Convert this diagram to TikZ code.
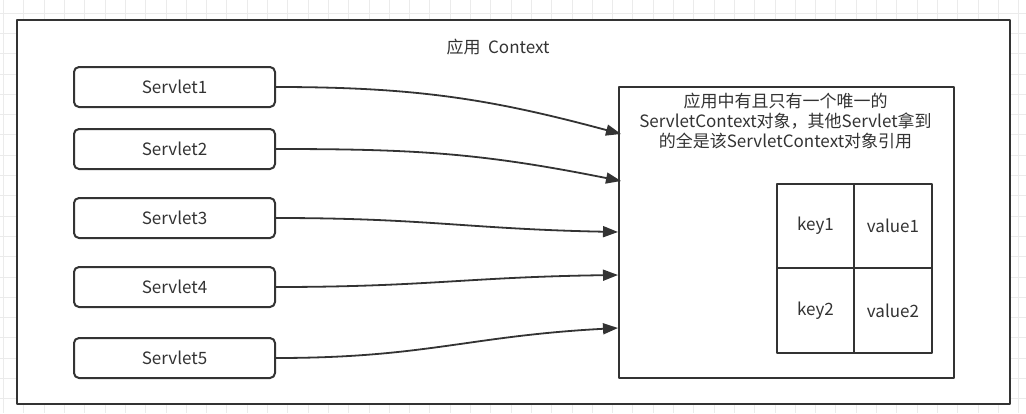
\documentclass[tikz,border=0pt]{standalone}
\usepackage{fontspec}
\setmainfont{Noto Sans CJK SC}
\usetikzlibrary{arrows.meta,positioning}

\definecolor{ink}{HTML}{333333}
\definecolor{gridgray}{HTML}{EBEBEB}

\begin{document}
\begin{tikzpicture}[x=1pt, y=-1pt, line join=round,
    every node/.style={font=\fontsize{17}{20}\selectfont, text=ink},
    frame/.style={draw=ink, line width=2pt, fill=white, inner sep=0pt},
    servlet/.style={draw=ink, line width=2pt, rounded corners=5pt,
        minimum width=201pt, minimum height=40pt, inner sep=0pt},
    cell/.style={draw=ink, line width=2pt, inner sep=0pt, outer sep=0pt},
    link/.style={draw=ink, line width=1.8pt, -{Triangle[length=15pt,width=11pt]}}]
    \useasboundingbox (0,0) rectangle (1026,413);
    % background grid
    \foreach \gx in {0,...,50}
        \draw[gridgray, line width=0.8pt] ({3.5+20.3*\gx},0) -- ({3.5+20.3*\gx},413);
    \foreach \gy in {0,...,19}
        \draw[gridgray, line width=0.8pt] (0,{13+20.3*\gy}) -- (1026,{13+20.3*\gy});

    \node[frame, minimum width=993pt, minimum height=384pt, anchor=north west] (app) at (16,19) {};
    \node (title) at (498,47) {应用~~Context};

    \foreach \i/\y in {1/87,2/149,3/218,4/287,5/358}
        \node[servlet] (s\i) at (174.5,\y) {Servlet\i};

    \node[frame, line width=1.8pt, minimum width=335pt, minimum height=291pt, anchor=north west] (ctx) at (618,86) {};
    \node[anchor=north, align=center] (desc) at (785.5,90)
        {应用中有且只有一个唯一的\\ServletContext对象，其他Servlet拿到\\的全是该ServletContext对象引用};

    % key / value table
    \node[cell, minimum width=77pt, minimum height=84pt, anchor=north west] (k1) at (777,184) {key1};
    \node[cell, minimum width=78pt, minimum height=84pt, right=0pt of k1] (v1) {value1};
    \node[cell, minimum width=77pt, minimum height=85pt, below=0pt of k1] (k2) {key2};
    \node[cell, minimum width=78pt, minimum height=85pt, right=0pt of k2] (v2) {value2};

    \coordinate (t1) at (621,134);
    \coordinate (t2) at (621,181);
    \coordinate (t3) at (618,232);
    \coordinate (t4) at (618,275);
    \coordinate (t5) at (618,328);
    \draw[link] (s1.east) .. controls +(140,0) and +(-130,-35) .. (t1);
    \draw[link] (s2.east) .. controls +(140,0) and +(-140,-28) .. (t2);
    \draw[link] (s3.east) .. controls +(150,0) and +(-150,-3) .. (t3);
    \draw[link] (s4.east) .. controls +(150,0) and +(-150,2) .. (t4);
    \draw[link] (s5.east) .. controls +(150,0) and +(-150,8) .. (t5);
\end{tikzpicture}
\end{document}
